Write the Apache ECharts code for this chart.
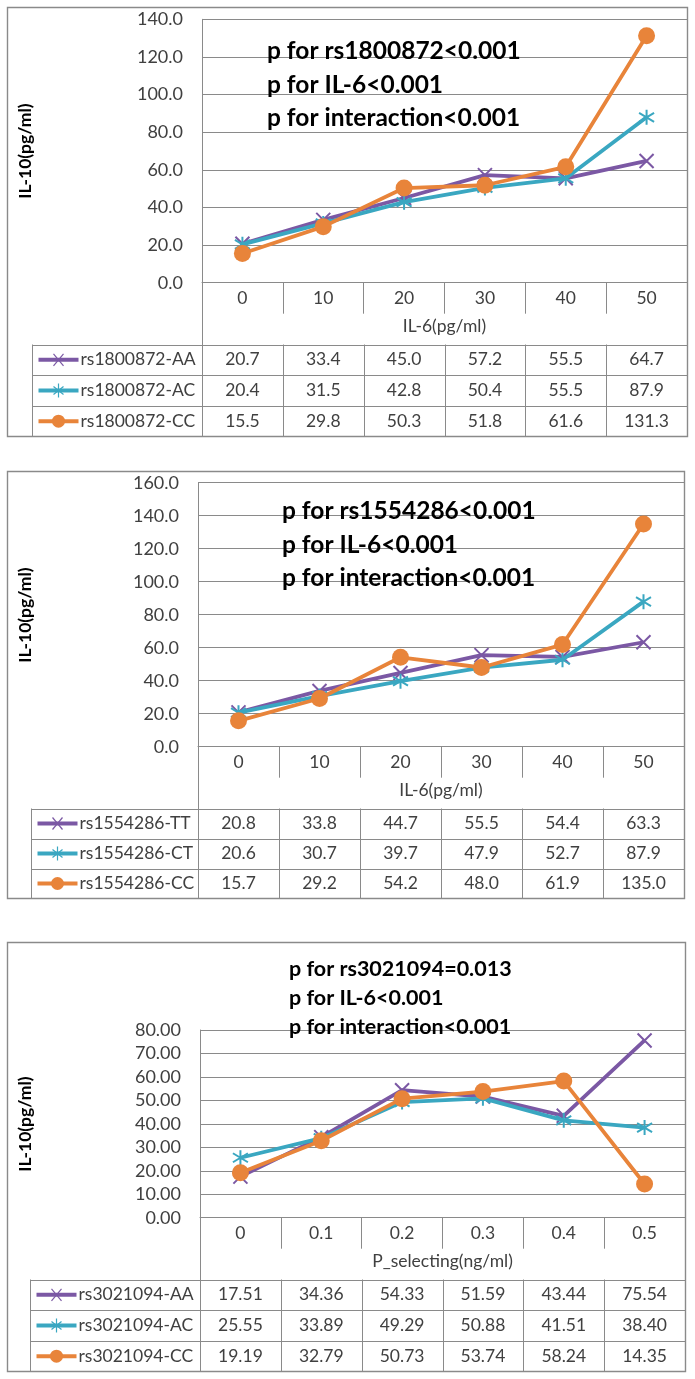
<!DOCTYPE html>
<html><head><meta charset="utf-8">
<script src="https://cdn.jsdelivr.net/npm/echarts@6/dist/echarts.min.js"></script>
<style>html,body{margin:0;padding:0;background:#fff}#c{width:695px;height:1379px}</style>
</head><body><div id="c"></div>
<script>
// ---------------- DATA ----------------
const il6Categories = ['0','10','20','30','40','50'];
const pselCategories = ['0','0.1','0.2','0.3','0.4','0.5'];

const rs1800872Names = ['rs1800872-AA','rs1800872-AC','rs1800872-CC'];
const rs1800872_AA = [20.7,33.4,45.0,57.2,55.5,64.7];
const rs1800872_AC = [20.4,31.5,42.8,50.4,55.5,87.9];
const rs1800872_CC = [15.5,29.8,50.3,51.8,61.6,131.3];
const notes1 = ['p for rs1800872<0.001','p for IL-6<0.001','p for interac\u200Ction<0.001'];

const rs1554286Names = ['rs1554286-TT','rs1554286-CT','rs1554286-CC'];
const rs1554286_TT = [20.8,33.8,44.7,55.5,54.4,63.3];
const rs1554286_CT = [20.6,30.7,39.7,47.9,52.7,87.9];
const rs1554286_CC = [15.7,29.2,54.2,48.0,61.9,135.0];
const notes2 = ['p for rs1554286<0.001','p for IL-6<0.001','p for interac\u200Ction<0.001'];

const rs3021094Names = ['rs3021094-AA','rs3021094-AC','rs3021094-CC'];
const rs3021094_AA = [17.51,34.36,54.33,51.59,43.44,75.54];
const rs3021094_AC = [25.55,33.89,49.29,50.88,41.51,38.40];
const rs3021094_CC = [19.19,32.79,50.73,53.74,58.24,14.35];
const notes3 = ['p for rs3021094=0.013','p for IL-6<0.001','p for interac\u200Ction<0.001'];

const yTitle = 'IL-10(pg/ml)';
const xName1 = 'IL-6(pg/ml)';
const xName2 = 'IL-6(pg/ml)';
const xName3 = 'P_selecting(ng/ml)';
const yAxis1 = [0, 140, 20, 1];   // min, max, step, decimals
const yAxis2 = [0, 160, 20, 1];
const yAxis3 = [0, 80, 10, 2];

// ---------------- STYLE / LAYOUT ----------------
const FONT = 'Lato';
const GRAY = '#8a8a8a';
const TXT = '#404040';
const COLORS = ['#7B58A4', '#3AA7C1', '#E8843A'];
const SYMBOLS = [
  'path://M1,1L9,9M9,1L1,9',
  'path://M1,2L9,8M9,2L1,8M5,0L5,10',
  'circle'
];
const SYMSIZE = [14, 15, 17];

const panels = [
  {cats: il6Categories, names: rs1800872Names, data: [rs1800872_AA, rs1800872_AC, rs1800872_CC], notes: notes1, xName: xName1, y: yAxis1,
   box: [7.5, 7.5, 687.5, 436.5], grid: [202, 19.3, 687, 282.7], tableLeft: 32.5, tableTop: 344.5, yTitleXY: [25, 151], note: {x: 267, ys: [51, 85, 118], size: 24.5}},
  {cats: il6Categories, names: rs1554286Names, data: [rs1554286_TT, rs1554286_CT, rs1554286_CC], notes: notes2, xName: xName2, y: yAxis2,
   box: [7.5, 471.5, 684.5, 898.5], grid: [198, 482.7, 684, 746.7], tableLeft: 31.5, tableTop: 808.5, yTitleXY: [25, 615], note: {x: 282, ys: [511, 545, 578], size: 24.5}},
  {cats: pselCategories, names: rs3021094Names, data: [rs3021094_AA, rs3021094_AC, rs3021094_CC], notes: notes3, xName: xName3, y: yAxis3,
   box: [7.5, 942.5, 685.5, 1371.5], grid: [200, 1030, 685, 1217.7], tableLeft: 30.5, tableTop: 1279.5, yTitleXY: [25, 1124], note: {x: 289, ys: [969, 998, 1027], size: 21.5}}
];

const chart = echarts.init(document.getElementById('c'), null, {renderer: 'canvas'});

const grids = [], xAxes = [], yAxes = [], series = [];
panels.forEach((p, k) => {
  grids.push({left: p.grid[0], top: p.grid[1], width: p.grid[2] - p.grid[0], height: p.grid[3] - p.grid[1], containLabel: false});
  xAxes.push({
    type: 'category', gridIndex: k, data: p.cats, boundaryGap: true,
    axisLine: {show: true, lineStyle: {color: GRAY, width: 1}},
    axisTick: {show: true, interval: 0, length: 31, lineStyle: {color: GRAY, width: 1}},
    axisLabel: {interval: 0, margin: 7, fontFamily: FONT, fontSize: 17.5, color: TXT},
    name: p.xName, nameLocation: 'middle', nameGap: 35,
    nameTextStyle: {fontFamily: FONT, fontSize: 17.5, color: TXT},
    splitLine: {show: false}
  });
  yAxes.push({
    type: 'value', gridIndex: k, min: p.y[0], max: p.y[1], interval: p.y[2],
    axisLine: {show: true, lineStyle: {color: GRAY, width: 1}},
    axisTick: {show: false},
    axisLabel: {margin: 19, fontFamily: FONT, fontSize: 18, color: TXT, formatter: v => v.toFixed(p.y[3])},
    splitLine: {show: true, lineStyle: {color: GRAY, width: 1}}
  });
  p.data.forEach((d, j) => {
    series.push({
      type: 'line', name: p.names[j], xAxisIndex: k, yAxisIndex: k, data: d,
      symbol: SYMBOLS[j], symbolSize: SYMSIZE[j], showAllSymbol: true,
      lineStyle: {color: COLORS[j], width: 3.8},
      itemStyle: {color: COLORS[j], borderColor: COLORS[j], borderWidth: j === 2 ? 0 : 2},
      z: 3 + j, animation: false, silent: true
    });
  });
});

chart.setOption({
  animation: false,
  grid: grids, xAxis: xAxes, yAxis: yAxes, series: series
});

// ---------------- TABLES, BORDERS, TEXT ----------------
const graphics = [];
function line(x1, y1, x2, y2, color, w) {
  graphics.push({type: 'line', shape: {x1, y1, x2, y2}, style: {stroke: color, lineWidth: w}, z: 1, silent: true});
}
function text(x, y, str, opt) {
  graphics.push(Object.assign({type: 'text', x, y, style: Object.assign({text: str, fontFamily: FONT, fill: TXT, align: 'left', verticalAlign: 'middle'}, opt.style || {}), z: 10, silent: true}, opt.el || {}));
}

panels.forEach((p, k) => {
  const [bx0, by0, bx1, by1] = p.box;
  graphics.push({type: 'rect', shape: {x: bx0, y: by0, width: bx1 - bx0, height: by1 - by0}, style: {fill: 'none', stroke: GRAY, lineWidth: 1.4}, z: 1, silent: true});

  const n = p.cats.length;
  const cx = p.cats.map((c, i) => chart.convertToPixel({xAxisIndex: k}, i));
  const plotL = Math.round(p.grid[0]) + 0.5;
  const plotR = bx1;
  const rowH = (by1 - p.tableTop) / 3;

  line(plotL, p.grid[3], plotL, by1, GRAY, 1);
  line(p.tableLeft, p.tableTop, p.tableLeft, by1, GRAY, 1);
  for (let r = 0; r < 3; r++) {
    const yy = Math.round(p.tableTop + r * rowH) + 0.5;
    line(p.tableLeft, yy, plotR, yy, GRAY, 1);
  }
  for (let i = 1; i < n; i++) {
    const xx = Math.round((cx[i - 1] + cx[i]) / 2) + 0.5;
    line(xx, p.tableTop, xx, by1, GRAY, 1);
  }
  p.data.forEach((d, j) => {
    const yc = p.tableTop + (j + 0.5) * rowH;
    const kx0 = p.tableLeft + 6, kx1 = p.tableLeft + 46, km = (kx0 + kx1) / 2;
    line(kx0, yc, kx1, yc, COLORS[j], 4);
    if (j === 0) {
      graphics.push({type: 'polyline', shape: {points: [[km - 5, yc - 6], [km + 5, yc + 6]]}, style: {stroke: COLORS[j], lineWidth: 1.2}, z: 2});
      graphics.push({type: 'polyline', shape: {points: [[km + 5, yc - 6], [km - 5, yc + 6]]}, style: {stroke: COLORS[j], lineWidth: 1.2}, z: 2});
    } else if (j === 1) {
      graphics.push({type: 'polyline', shape: {points: [[km - 5, yc - 4], [km + 5, yc + 4]]}, style: {stroke: COLORS[j], lineWidth: 1.2}, z: 2});
      graphics.push({type: 'polyline', shape: {points: [[km + 5, yc - 4], [km - 5, yc + 4]]}, style: {stroke: COLORS[j], lineWidth: 1.2}, z: 2});
      graphics.push({type: 'polyline', shape: {points: [[km, yc - 7], [km, yc + 7]]}, style: {stroke: COLORS[j], lineWidth: 1.2}, z: 2});
    } else {
      graphics.push({type: 'circle', shape: {cx: km, cy: yc, r: 6.5}, style: {fill: COLORS[j]}, z: 2});
    }
    text(p.tableLeft + 48, yc, p.names[j], {style: {fontSize: 17.5}});
    d.forEach((v, i) => {
      text(cx[i], yc, v.toFixed(p.y[3]), {style: {fontSize: 17.5, align: 'center'}});
    });
  });

  text(p.yTitleXY[0], p.yTitleXY[1], yTitle, {style: {fontSize: 17.5, fontWeight: 'bold', fill: '#000', align: 'center'}, el: {rotation: Math.PI / 2}});
  p.notes.forEach((s, i) => {
    text(p.note.x, p.note.ys[i], s, {style: {fontSize: p.note.size, fontWeight: 'bold', fill: '#000'}});
  });
});

chart.setOption({graphic: {elements: graphics}});
</script>
</body></html>
